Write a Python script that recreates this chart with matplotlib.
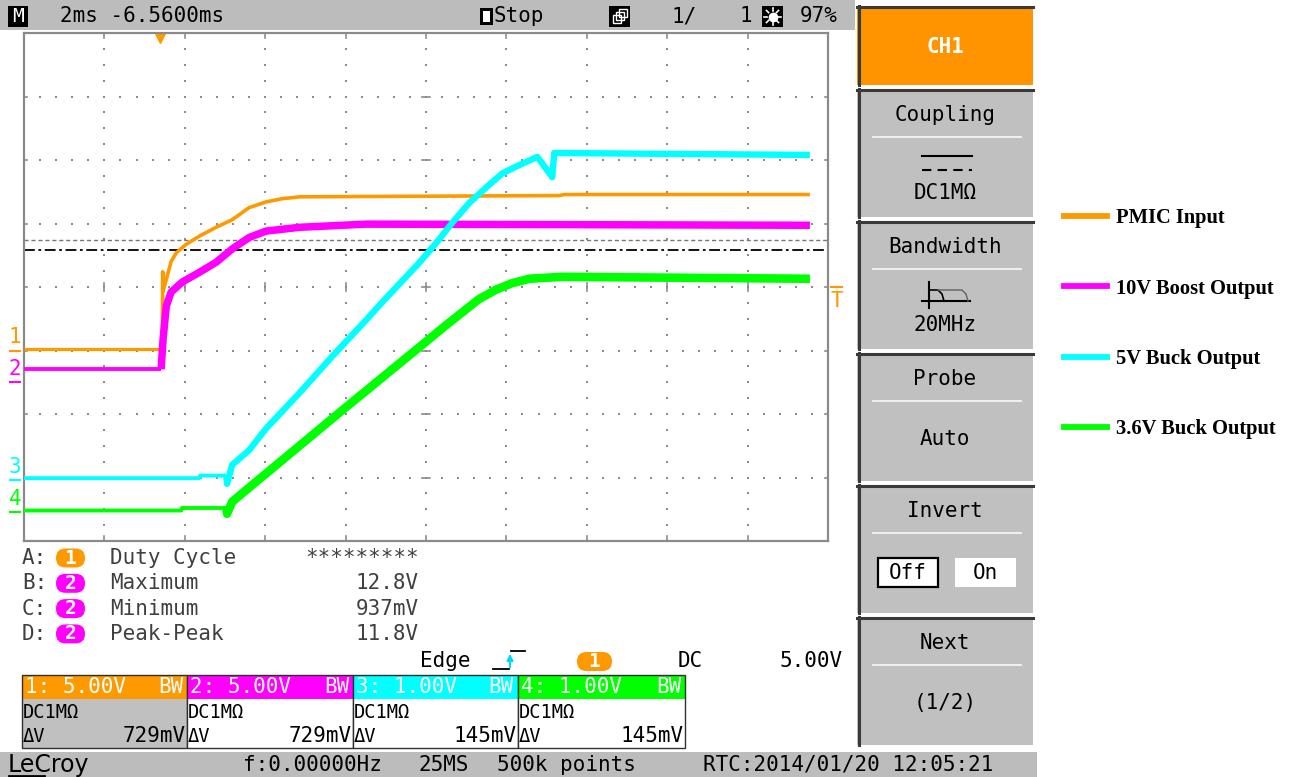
import numpy as np
import matplotlib.pyplot as plt
from matplotlib.patches import Rectangle, FancyBboxPatch
from matplotlib.lines import Line2D

# --- captured waveforms: time in ms from trigger, value in volts ---
ch1_t = [-3.38, 0.06, 0.07, 0.08, 0.16, 0.28, 0.41, 0.65, 0.98, 1.40, 1.80, 2.22, 2.64, 3.04, 3.47, 9.93, 10.06, 16.17]
ch1_v = [0.08, 0.08, 6.2, 4.65, 5.6, 7.0, 7.7, 8.35, 9.0, 9.7, 10.3, 11.25, 11.7, 11.95, 12.1, 12.2, 12.28, 12.28]

ch2_t = [-3.38, 0.03, 0.08, 0.16, 0.28, 0.56, 0.98, 1.40, 1.80, 2.22, 2.64, 3.47, 5.13, 16.17]
ch2_v = [1.02, 1.02, 3.4, 6.0, 7.1, 7.9, 8.65, 9.45, 10.5, 11.4, 11.9, 12.2, 12.45, 12.36]

ch3_t = [-3.38, 0.98, 1.0, 1.65, 1.67, 1.80, 2.22, 2.64, 3.47, 4.29, 5.13, 5.53, 6.45, 6.87, 7.27, 7.69, 8.12, 8.52, 8.94, 9.39, 9.76, 9.81, 16.17]
ch3_v = [0.03, 0.03, 0.07, 0.07, -0.06, 0.24, 0.47, 0.81, 1.37, 1.95, 2.52, 2.80, 3.42, 3.73, 4.05, 4.36, 4.61, 4.83, 4.96, 5.09, 4.77, 5.15, 5.12]

ch4_t = [-3.38, 0.53, 0.55, 1.65, 1.67, 1.80, 4.54, 7.20, 7.94, 8.37, 8.76, 9.19, 10.0, 16.17]
ch4_v = [0.02, 0.02, 0.06, 0.06, -0.03, 0.16, 1.60, 2.98, 3.35, 3.50, 3.60, 3.67, 3.70, 3.67]

# channel setup
ch_names = ['PMIC Input', '10V Boost Output', '5V Buck Output', '3.6V Buck Output']
ch_colors = ['#ff9900', '#ff00ff', '#00ffff', '#00ff00']
ch_scale = [5.0, 5.0, 1.0, 1.0]          # V/div
ch_offset = [-1.0, -1.5, -3.04, -3.54]   # ground position in div
ch_label = ['1: 5.00V', '2: 5.00V', '3: 1.00V', '4: 1.00V']
ch_dv = ['729mV', '729mV', '145mV', '145mV']
ch_step = [0.06, 0.03, 1.65, 1.65]       # time where each trace leaves its flat start

t_left = -3.38
time_div = 2.0
trig_level = 5.0
cursor_a = 0.74   # div
cursor_b = 0.58   # div

meas_tag = ['A:', 'B:', 'C:', 'D:']
meas_ch = [1, 2, 2, 2]
meas_name = ['Duty Cycle', 'Maximum', 'Minimum', 'Peak-Peak']
meas_val = ['*********', '12.8V', '937mV', '11.8V']

menu_title = ['Coupling', 'Bandwidth', 'Probe', 'Invert', 'Next']
menu_value = ['DC1M\u03a9', '20MHz', 'Auto', '', '(1/2)']

W, H = 1293, 777
mono = 'DejaVu Sans Mono'
GRAY = '#bcbcbc'

fig = plt.figure(figsize=(W / 100, H / 100), dpi=100)
ui = fig.add_axes([0, 0, 1, 1])
ui.set_xlim(0, W)
ui.set_ylim(H, 0)
ui.axis('off')

# ---------------- scope grid ----------------
sc = fig.add_axes([24 / W, 1 - 541 / H, 804 / W, 508 / H])
sc.set_xlim(t_left, t_left + 10 * time_div)
sc.set_ylim(-4, 4)
sc.set_xticks([])
sc.set_yticks([])
for s in sc.spines.values():
    s.set_color('#8a8a8a')
    s.set_linewidth(1.6)

xmaj = t_left + time_div * np.arange(11)
dot_x, dot_y = [], []
for xk in xmaj[1:-1]:
    for j in range(-15, 16):
        dot_x.append(xk)
        dot_y.append(j / 4)
for yj in range(-3, 4):
    for m in range(1, 50):
        dot_x.append(t_left + m * time_div / 5)
        dot_y.append(yj)
sc.scatter(dot_x, dot_y, s=1.6, marker='s', color='#8c8c8c', linewidths=0, zorder=1)

t_mid = xmaj[5]
for xk in xmaj[1:-1]:
    sc.plot([xk, xk], [-0.07, 0.07], color='#8c8c8c', lw=1.2, zorder=1)
    sc.plot([xk, xk], [3.92, 4], color='#8c8c8c', lw=1.2, zorder=1)
    sc.plot([xk, xk], [-4, -3.92], color='#8c8c8c', lw=1.2, zorder=1)
for yj in range(-3, 4):
    sc.plot([t_mid - 0.1, t_mid + 0.1], [yj, yj], color='#8c8c8c', lw=1.2, zorder=1)
    sc.plot([t_left, t_left + 0.08], [yj, yj], color='#8c8c8c', lw=1.2, zorder=1)
    sc.plot([xmaj[-1] - 0.08, xmaj[-1]], [yj, yj], color='#8c8c8c', lw=1.2, zorder=1)

# cursors
sc.axhline(cursor_a, color='#777777', lw=1.0, ls=(0, (3, 2)), zorder=2)
sc.axhline(cursor_b, color='black', lw=1.3, ls=(0, (6, 2, 1.5, 2)), xmax=0.995, zorder=2)

# traces: thin before the step, noisy band after it
thin_lw = [2.3, 2.8, 2.8, 2.8]
band_lw = [2.6, 5.4, 4.6, 6.2]
for t, v, i in [(ch1_t, ch1_v, 0), (ch2_t, ch2_v, 1), (ch3_t, ch3_v, 2), (ch4_t, ch4_v, 3)]:
    t = np.array(t)
    y = ch_offset[i] + np.array(v) / ch_scale[i]
    k = int(np.searchsorted(t, ch_step[i])) + 1
    sc.plot(t[:k], y[:k], color=ch_colors[i], lw=thin_lw[i], solid_capstyle='butt', zorder=3 + i * 0.1)
    sc.plot(t[k - 1:], y[k - 1:], color=ch_colors[i], lw=band_lw[i], solid_capstyle='butt',
            solid_joinstyle='round', zorder=3 + i * 0.1)

# ground markers on the left edge
ytr = sc.get_yaxis_transform()
for i in range(4):
    sc.plot([-0.018, -0.005], [ch_offset[i]] * 2, color=ch_colors[i], lw=1.5,
            transform=ytr, clip_on=False)
    sc.text(-0.011, ch_offset[i] + 0.05, str(i + 1), color=ch_colors[i], fontsize=15,
            family=mono, ha='center', va='bottom', transform=ytr, clip_on=False)

# trigger level and trigger time marks
trig_y = ch_offset[0] + trig_level / ch_scale[0]
sc.plot([1.004, 1.018], [trig_y, trig_y], color=ch_colors[0], lw=1.5, transform=ytr, clip_on=False)
sc.text(1.011, trig_y - 0.06, 'T', color=ch_colors[0], fontsize=15, family=mono,
        ha='center', va='top', transform=ytr, clip_on=False)
sc.plot([0], [0.99], marker='v', color=ch_colors[0], ms=7, transform=sc.get_xaxis_transform(),
        clip_on=False)

# ---------------- top status bar ----------------
ui.add_patch(Rectangle((0, 0), 855, 30, color=GRAY, lw=0))
ui.add_patch(Rectangle((8, 6), 20, 21, color='black', lw=0))
ui.text(18, 16.5, 'M', color='white', fontsize=14, family=mono, ha='center', va='center')
ui.text(60, 16.5, '2ms -6.5600ms', fontsize=15, family=mono, va='center')
ui.add_patch(Rectangle((480, 8), 13, 17, color='black', lw=0))
ui.add_patch(Rectangle((483, 11), 7, 11, color='white', lw=0))
ui.text(494, 16.5, 'Stop', fontsize=15, family=mono, va='center')
ui.add_patch(Rectangle((609, 6), 21, 21, color='black', lw=0))
for dx in (0, 3, 6):
    ui.add_patch(Rectangle((613 + dx, 15 - dx), 8, 8, fill=False, ec='white', lw=1))
ui.text(672, 16.5, '1/', fontsize=15, family=mono, va='center')
ui.text(740, 16.5, '1', fontsize=15, family=mono, va='center')
ui.add_patch(Rectangle((762, 6), 21, 21, color='black', lw=0))
ui.plot(772.5, 16.5, marker='o', ms=6, color='white')
for a in np.linspace(0, 2 * np.pi, 9)[:-1]:
    ui.plot([772.5 + 5.5 * np.cos(a), 772.5 + 8.5 * np.cos(a)],
            [16.5 + 5.5 * np.sin(a), 16.5 + 8.5 * np.sin(a)], color='white', lw=1.2)
ui.text(800, 16.5, '97%', fontsize=15, family=mono, va='center')

# ---------------- right menu ----------------
def menu_box(top, bottom, fc):
    ui.add_patch(Rectangle((857, top), 176, bottom - top, color=fc, lw=0))
    ui.plot([857, 1033], [top + 1, top + 1], color='#3a3a3a', lw=2.2)
    ui.plot([858.5, 858.5], [top, bottom], color='#3a3a3a', lw=2.2)

menu_box(6, 85, '#ff9400')
ui.text(945, 47, 'CH1', color='white', fontsize=15, family=mono, weight='bold', ha='center', va='center')
tops = [89, 221, 353, 485, 617]
for k, top in enumerate(tops):
    menu_box(top, top + 128, '#c0c0c0')
    ui.text(945, top + 26, menu_title[k], fontsize=15, family=mono, ha='center', va='center')
    ui.plot([873, 1021], [top + 48, top + 48], color='#f4f4f4', lw=1.3)
    if menu_value[k]:
        vy = top + 104 if k < 2 else top + 86
        ui.text(945, vy, menu_value[k], fontsize=15, family=mono, ha='center', va='center')

# coupling symbol
ui.plot([922, 972], [156, 156], color='black', lw=1.5)
ui.plot([922, 972], [170, 170], color='black', lw=1.5, ls=(0, (4.5, 3)))
# bandwidth filter symbol
ui.plot([922, 970], [301, 301], color='black', lw=1.5)
ui.plot([929, 929], [282, 308], color='black', lw=1.5)
ui.plot([929, 938, 942, 944], [290, 290, 294, 301], color='black', lw=1.2)
ui.plot([938, 962, 966, 968], [290, 290, 294, 301], color='#606060', lw=1.0)
# invert off / on
ui.add_patch(Rectangle((878, 558), 60, 29, fc='white', ec='black', lw=1.6))
ui.add_patch(Rectangle((955, 558), 61, 29, fc='white', ec='none'))
ui.text(908, 573, 'Off', fontsize=15, family=mono, ha='center', va='center')
ui.text(985, 573, 'On', fontsize=15, family=mono, ha='center', va='center')

# ---------------- measurements ----------------
for r in range(4):
    yy = 558 + r * 25.3
    ui.text(22, yy, meas_tag[r], color='#404040', fontsize=15, family=mono, va='center')
    ui.add_patch(FancyBboxPatch((56, yy - 9.5), 29, 19, boxstyle='round,pad=0,rounding_size=9.5',
                                color=ch_colors[meas_ch[r] - 1], lw=0))
    ui.text(70.5, yy, str(meas_ch[r]), color='white', fontsize=14, family=mono, weight='bold',
            ha='center', va='center')
    ui.text(110, yy, meas_name[r], color='#404040', fontsize=15, family=mono, va='center')
    ui.text(419, yy, meas_val[r], color='#404040', fontsize=15, family=mono, va='center', ha='right')

# trigger setup line
ui.text(420, 661, 'Edge', fontsize=15, family=mono, va='center')
ui.plot([493, 509], [669, 669], color='black', lw=1.3)
ui.plot([511, 525], [651, 651], color='black', lw=1.3)
ui.annotate('', xy=(510, 651), xytext=(510, 670),
            arrowprops=dict(arrowstyle='-|>', color='#00d8ff', lw=1.5, mutation_scale=9))
ui.add_patch(FancyBboxPatch((577, 652), 35, 19, boxstyle='round,pad=0,rounding_size=9.5',
                            color=ch_colors[0], lw=0))
ui.text(594.5, 661.5, '1', color='white', fontsize=14, family=mono, weight='bold', ha='center', va='center')
ui.text(678, 661, 'DC', fontsize=15, family=mono, va='center')
ui.text(843, 661, '5.00V', fontsize=15, family=mono, va='center', ha='right')

# channel boxes
box_x = [22, 187, 353, 518, 685]
for i in range(4):
    x0, x1 = box_x[i], box_x[i + 1]
    ui.add_patch(Rectangle((x0, 675), x1 - x0, 24, color=ch_colors[i], lw=0))
    ui.add_patch(Rectangle((x0, 699), x1 - x0, 49, fc='#c0c0c0' if i == 0 else 'white', ec='none'))
    ui.add_patch(Rectangle((x0, 675), x1 - x0, 73, fill=False, ec='#303030', lw=1.0))
    ui.text(x0 + 3, 687, ch_label[i], color='white', fontsize=15, family=mono, va='center')
    ui.text(x1 - 4, 687, 'BW', color='white', fontsize=15, family=mono, va='center', ha='right')
    ui.text(x0 + 1, 712, 'DC1M\u03a9', fontsize=13.5, family=mono, va='center')
    ui.text(x0 + 1, 736, '\u0394V', fontsize=13.5, family=mono, va='center')
    ui.text(x1 - 1, 736, ch_dv[i], fontsize=15, family=mono, va='center', ha='right')

# ---------------- bottom status bar ----------------
ui.add_patch(Rectangle((0, 752), 1037, 25, color=GRAY, lw=0))
ui.text(8, 765, 'LeCroy', fontsize=17, family='DejaVu Sans Condensed', va='center')
ui.plot([9, 44], [775.5, 775.5], color='black', lw=2)
ui.text(243, 765, 'f:0.00000Hz', fontsize=15, family=mono, va='center')
ui.text(418, 765, '25MS', fontsize=15, family=mono, va='center')
ui.text(497, 765, '500k points', fontsize=15, family=mono, va='center')
ui.text(703, 765, 'RTC:2014/01/20 12:05:21', fontsize=15, family=mono, va='center')

# ---------------- legend ----------------
handles = [Line2D([], [], color=c, lw=4.2) for c in ch_colors]
fig.legend(handles, ch_names, loc='upper left', bbox_to_anchor=(1054 / W, 1 - 198 / H),
           frameon=False, borderpad=0, labelspacing=2.45, handlelength=2.1, handletextpad=0.4,
           prop={'family': 'Liberation Serif', 'weight': 'bold', 'size': 14.8})

fig.savefig('out.png', dpi=100)
